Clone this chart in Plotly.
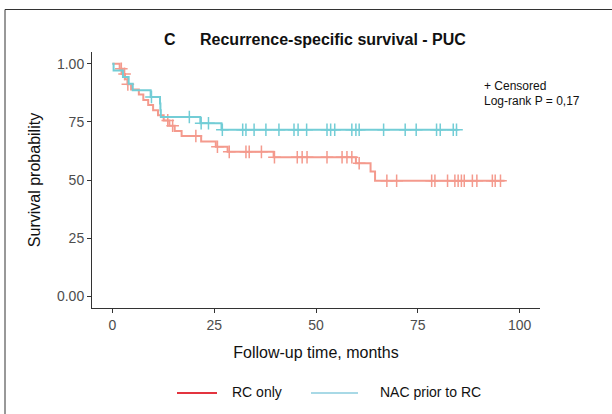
import numpy as np
import plotly.graph_objects as go

# ---------------- data ----------------
rc_times = [0, 1.8, 2.5, 3.1, 3.7, 4.6, 6.5, 7.6, 8.8, 10.0, 11.2, 12.6, 14.0, 15.3, 17.0,
            21.8, 25.4, 28.3, 39.6, 59.8, 63.4, 64.5, 96.3]
rc_surv = [1.0, 0.978, 0.956, 0.933, 0.911, 0.889, 0.867, 0.844, 0.822, 0.80, 0.778, 0.756,
           0.733, 0.711, 0.689, 0.665, 0.643, 0.621, 0.598, 0.572, 0.536, 0.497, 0.497]
rc_censor = [2.2, 3.0, 3.8, 13.6, 14.8, 20.5, 25.8, 28.7, 32.8, 33.6, 36.6, 39.8, 45.4, 46.6,
             47.8, 52.7, 56.4, 57.6, 58.8, 60.6, 67.4, 69.8, 78.4, 79.2, 82.3, 84.1, 84.9,
             85.7, 86.4, 88.4, 89.5, 93.3, 94.0, 95.3]

nac_times = [0, 0.3, 2.6, 4.0, 5.0, 9.4, 11.7, 11.8, 11.9, 21.6, 26.8, 84.8]
nac_surv = [1.0, 0.971, 0.943, 0.914, 0.886, 0.857, 0.829, 0.800, 0.771, 0.744, 0.716, 0.716]
nac_censor = [9.6, 18.9, 21.8, 23.6, 27.0, 32.0, 32.8, 34.8, 37.7, 40.9, 44.6, 45.6, 47.7,
              52.7, 53.6, 54.6, 58.8, 59.8, 60.6, 66.6, 71.9, 74.6, 79.6, 80.5, 83.7, 84.5]

x_ticks = [0, 25, 50, 75, 100]
y_ticks = [0, 0.25, 0.5, 0.75, 1.0]
y_ticklabels = ["0.00", "25", "50", "75", "1.00"]

title_letter = "C"
title_text = "Recurrence-specific survival - PUC"
legend_labels = ["RC only", "NAC prior to RC"]
note_lines = ["+ Censored", "Log-rank P = 0,17"]

# ---------------- styling ----------------
RED = "#F49A8D"
BLUE = "#73CDD6"
LEG_RED = "#E3343F"
LEG_BLUE = "#A8D9E6"
FONT = "Liberation Sans, Arial, sans-serif"

W, H = 612, 414
ML, MR, MT, MB = 92, 72, 52, 106


def px(x):
    return (x - ML) / (W - ML - MR)


def py(y):
    return (H - MB - y) / (H - MT - MB)


def step_at(times, surv, t):
    i = np.searchsorted(np.asarray(times), t, side="right") - 1
    return float(np.asarray(surv)[i])


fig = go.Figure()
for times, surv, cens, col in [(rc_times, rc_surv, rc_censor, RED),
                               (nac_times, nac_surv, nac_censor, BLUE)]:
    fig.add_trace(go.Scatter(x=times, y=surv, mode="lines", line=dict(color=col, width=2, shape="hv"),
                             showlegend=False, hoverinfo="skip"))
    fig.add_trace(go.Scatter(x=cens, y=[step_at(times, surv, t) for t in cens], mode="markers",
                             marker=dict(symbol="cross-thin", size=9, line=dict(color=col, width=1.5)),
                             showlegend=False, hoverinfo="skip"))

fig.update_layout(
    width=W, height=H,
    margin=dict(l=ML, r=MR, t=MT, b=MB),
    paper_bgcolor="white", plot_bgcolor="white",
    showlegend=False,
    font=dict(family=FONT, color="#222222"),
    xaxis=dict(range=[-5, 105], tickvals=x_ticks, ticks="outside", ticklen=4, tickcolor="#333333",
               showline=True, linecolor="#333333", linewidth=1, showgrid=False, zeroline=False,
               tickfont=dict(size=14, color="#4D4D4D"),
               title=dict(text="Follow-up time, months", font=dict(size=16, color="#111111"), standoff=15)),
    yaxis=dict(range=[-0.05, 1.05], tickvals=y_ticks, ticktext=y_ticklabels, ticks="outside", ticklen=4,
               tickcolor="#333333", showline=True, linecolor="#333333", linewidth=1, showgrid=False,
               zeroline=False, tickfont=dict(size=14, color="#4D4D4D"),
               title=dict(text="Survival probability", font=dict(size=16, color="#111111"), standoff=12)),
)

# frame around the figure panel
fig.add_shape(type="line", xref="paper", yref="paper", x0=px(5), x1=px(640), y0=py(9.5), y1=py(9.5),
              line=dict(color="#333333", width=1))
fig.add_shape(type="line", xref="paper", yref="paper", x0=px(5), x1=px(5), y0=py(9.5), y1=py(440),
              line=dict(color="#333333", width=1))

# title
TFONT = dict(family="Liberation Sans, Arial, sans-serif", size=16, color="#111111")
fig.add_annotation(xref="paper", yref="paper", x=px(170), y=py(39), text="<b>%s</b>" % title_letter,
                   showarrow=False, xanchor="center", yanchor="middle", font=TFONT)
fig.add_annotation(xref="paper", yref="paper", x=px(198), y=py(39), text="<b>%s</b>" % title_text,
                   showarrow=False, xanchor="left", yanchor="middle", font=TFONT)

# note
for i, line in enumerate(note_lines):
    fig.add_annotation(xref="paper", yref="paper", x=px(482), y=py(86 + 15 * i), text=line,
                       showarrow=False, xanchor="left", yanchor="middle",
                       font=dict(size=12, color="#111111"))

# legend
leg = [(177, 217, 230, LEG_RED, legend_labels[0]), (311, 358, 378, LEG_BLUE, legend_labels[1])]
for x0, x1, xt, col, lab in leg:
    fig.add_shape(type="line", xref="paper", yref="paper", x0=px(x0), x1=px(x1), y0=py(393), y1=py(393),
                  line=dict(color=col, width=2))
    fig.add_annotation(xref="paper", yref="paper", x=px(xt), y=py(392), text=lab, showarrow=False,
                       xanchor="left", yanchor="middle", font=dict(size=14, color="#111111"))

fig.write_html("out.html")
